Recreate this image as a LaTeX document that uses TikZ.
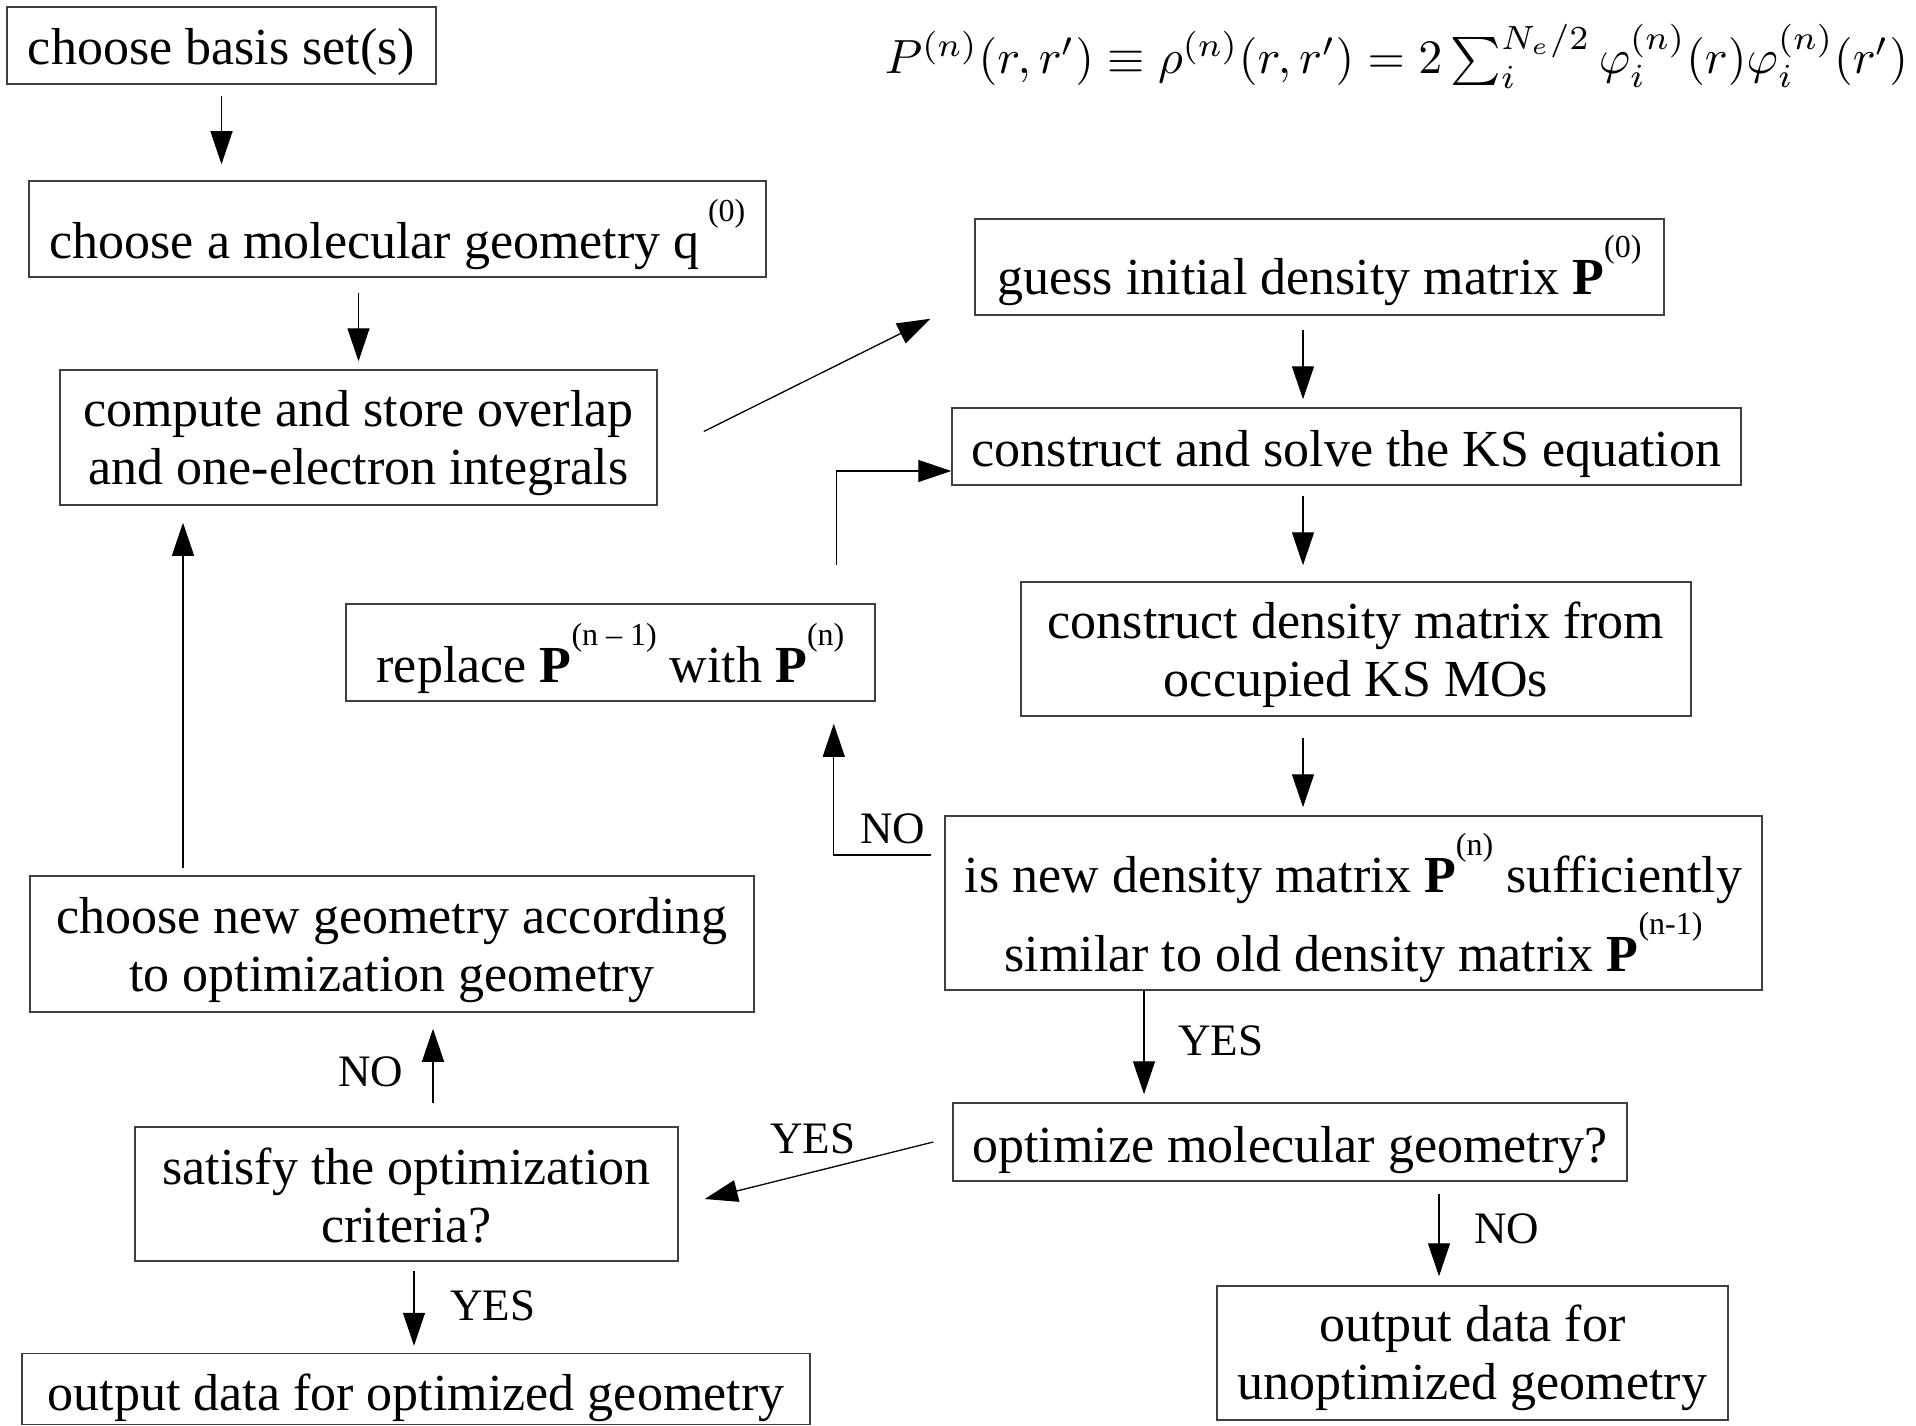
\documentclass[tikz,border=0pt]{standalone}
\usepackage{fontspec}
\setmainfont{Liberation Serif}
\usetikzlibrary{arrows.meta}

% raised, smaller index such as (n) after a matrix symbol
\newcommand\upidx[1]{\raisebox{37pt}{\fontsize{32}{32}\selectfont #1}}
\newcommand\boxfont{\fontsize{52}{58}\selectfont}
\newcommand\labfont{\fontsize{45}{50}\selectfont}

\tikzset{
  box/.style={draw=black!75, line width=1.5pt, inner sep=0pt},
  txt/.style={inner sep=0pt, align=center, font=\boxfont},
  arr/.style={line width=1.3pt, -{Triangle[length=33pt,width=22pt]}},
  lab/.style={inner sep=0pt, anchor=base west, font=\labfont},
}

\begin{document}
\begin{tikzpicture}[x=1pt,y=-1pt]
\useasboundingbox (0,0) rectangle (1916,1426);

% density matrix definition (math set at 10pt, then scaled up)
\node (eq) [inner sep=0pt, anchor=base west, scale=4.8, transform shape] at (884,74)
  {\fontsize{10}{12}\selectfont$P^{(n)}(r,r')\equiv\rho^{(n)}(r,r')=2\sum_i^{N_e/2}\varphi_i^{(n)}(r)\varphi_i^{(n)}(r')$};

% boxes
\node[box, minimum width=429pt, minimum height=77pt] (A) at (221.5,45.5) {};
\node[box, minimum width=737pt, minimum height=96pt] (B) at (397.5,229) {};
\node[box, minimum width=597pt, minimum height=135pt] (C) at (358.5,437.5) {};
\node[box, minimum width=689pt, minimum height=96pt] (D) at (1319.5,267) {};
\node[box, minimum width=789pt, minimum height=77pt] (E) at (1346.5,446.5) {};
\node[box, minimum width=670pt, minimum height=134pt] (F) at (1356,649) {};
\node[box, minimum width=529pt, minimum height=97pt] (G) at (610.5,652.5) {};
\node[box, minimum width=817pt, minimum height=174pt] (H) at (1353.5,903) {};
\node[box, minimum width=724pt, minimum height=136pt] (I) at (392,944) {};
\node[box, minimum width=674pt, minimum height=78pt] (J) at (1290,1142) {};
\node[box, minimum width=543pt, minimum height=134pt] (K) at (406.5,1194) {};
\node[box, minimum width=788pt, minimum height=71pt] (L) at (416,1389) {};
\node[box, minimum width=511pt, minimum height=134pt] (M) at (1472.5,1353) {};

% box texts
\node[txt] (At) at ([yshift=-6pt]A.center) {choose basis set(s)};
\node[txt] (Bt) at ([yshift=-6pt]B.center) {choose a molecular geometry q\,\upidx{(0)}};
\node[txt] (Ct) at ([yshift=-6pt]C.center) {compute and store overlap\\and one-electron integrals};
\node[txt] (Dt) at ([yshift=-4pt]D.center) {guess initial density matrix \textbf{P}\upidx{(0)}};
\node[txt] (Et) at ([yshift=-7pt]E.center) {construct and solve the KS equation};
\node[txt] (Ft) at ([yshift=-6pt]F.center) {construct density matrix from\\occupied KS MOs};
\node[txt] (Gt) at ([yshift=-6pt]G.center) {replace \textbf{P}\upidx{(n – 1)} with \textbf{P}\upidx{(n)}};
\node[txt] (Ht) at ([yshift=-5pt]H.center) {is new density matrix \textbf{P}\upidx{(n)} sufficiently\\[8pt]similar to old density matrix \textbf{P}\upidx{(n-1)}};
\node[txt] (It) at ([yshift=-6pt]I.center) {choose new geometry according\\to optimization geometry};
\node[txt] (Jt) at ([yshift=-8pt]J.center) {optimize molecular geometry?};
\node[txt] (Kt) at ([yshift=-2pt]K.center) {satisfy the optimization\\criteria?};
\node[txt] (Lt) at ([yshift=-9pt]L.center) {output data for optimized geometry};
\node[txt] (Mt) at ([yshift=-5pt]M.center) {output data for\\unoptimized geometry};

% columns used by vertical connectors
\coordinate (xmain) at (1303,0);
\coordinate (xyes) at (1144,0);
\coordinate (xno) at (1439,0);
\coordinate (xkl) at (414,0);
\coordinate (xki) at (433,0);
\coordinate (xic) at (183,0);

% main flow
\draw[arr] ([yshift=-11pt]A.south) -- ([yshift=16pt]A.south |- B.north);
\draw[arr] ([yshift=-15pt]C.north |- B.south) -- ([yshift=8pt]C.north);
\draw[arr] ([xshift=46pt,yshift=6pt]C.east) -- ([xshift=-44pt,yshift=-3pt]D.south west);
\draw[arr] ([yshift=-14pt]D.south -| xmain) -- ([yshift=8pt]E.north -| xmain);
\draw[arr] ([yshift=-10pt]E.south -| xmain) -- ([yshift=16pt]F.north -| xmain);
\draw[arr] ([yshift=-21pt]F.south -| xmain) -- ([yshift=8pt]H.north -| xmain);

% SCF loop
\draw[arr] ([xshift=-13pt,yshift=48pt]H.west) -| ([xshift=-42pt,yshift=-22pt]G.south east);
\node[lab] (noscf) at (860,843) {NO};
\draw[arr] ([xshift=-39pt,yshift=38pt]G.north east) |- ([yshift=-24.5pt]E.west);

% converged
\draw[arr] (H.south -| xyes) -- ([yshift=8pt]J.north -| xyes);
\node[lab] (yesscf) at (1178,1055) {YES};

% geometry optimization branch
\draw[arr] ([xshift=-19pt]J.west) -- ([xshift=26pt,yshift=-5pt]K.east);
\node[lab] (yesopt) at (770,1153) {YES};
\draw[arr] ([yshift=-12pt]J.south -| xno) -- ([yshift=9pt]M.north -| xno);
\node[lab] (noopt) at (1474,1243) {NO};

\draw[arr] ([yshift=-9pt]K.south -| xkl) -- ([yshift=7pt]L.north -| xkl);
\node[lab] (yescrit) at (450,1320) {YES};
\draw[arr] ([yshift=23pt]K.north -| xki) -- ([yshift=-16pt]I.south -| xki);
\node[lab] (nocrit) at (338,1086) {NO};
\draw[arr] ([yshift=7pt]I.north -| xic) -- ([yshift=-17pt]C.south -| xic);
\end{tikzpicture}
\end{document}
